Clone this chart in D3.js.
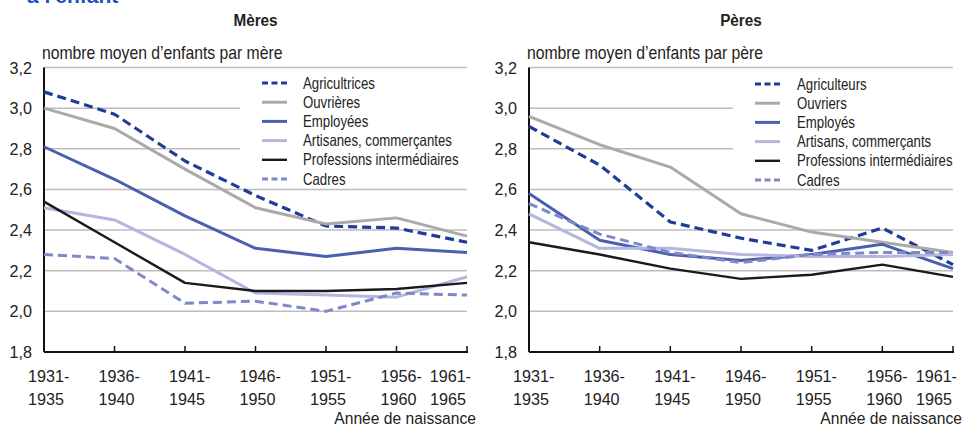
<!DOCTYPE html>
<html>
<head>
<meta charset="utf-8">
<script src="https://cdn.jsdelivr.net/npm/d3@7"></script>
<style>
  body { margin: 0; background: #fff; }
  svg text { font-family: "Liberation Sans", Arial, sans-serif; fill: #222; }
</style>
</head>
<body>
<div class="chart"></div>
<script>
// periods of birth
var periods = ["1931-1935", "1936-1940", "1941-1945", "1946-1950", "1951-1955", "1956-1960", "1961-1965"];
var yTicks = [1.8, 2.0, 2.2, 2.4, 2.6, 2.8, 3.0, 3.2];

// Mères
var meresNames = ["Agricultrices", "Ouvrières", "Employées", "Artisanes, commerçantes", "Professions intermédiaires", "Cadres"];
var agricultrices = [3.08, 2.97, 2.74, 2.57, 2.42, 2.41, 2.34];
var ouvrieres     = [3.00, 2.90, 2.70, 2.51, 2.43, 2.46, 2.37];
var employees     = [2.81, 2.65, 2.47, 2.31, 2.27, 2.31, 2.29];
var artisanes     = [2.51, 2.45, 2.28, 2.09, 2.08, 2.07, 2.17];
var profIntF      = [2.54, 2.34, 2.14, 2.10, 2.10, 2.11, 2.14];
var cadresF       = [2.28, 2.26, 2.04, 2.05, 2.00, 2.09, 2.08];

// Pères
var peresNames = ["Agriculteurs", "Ouvriers", "Employés", "Artisans, commerçants", "Professions intermédiaires", "Cadres"];
var agriculteurs = [2.91, 2.72, 2.44, 2.36, 2.30, 2.41, 2.23];
var ouvriers     = [2.96, 2.82, 2.71, 2.48, 2.39, 2.34, 2.29];
var employes     = [2.58, 2.35, 2.28, 2.25, 2.28, 2.33, 2.21];
var artisans     = [2.48, 2.31, 2.31, 2.28, 2.27, 2.27, 2.28];
var profIntH     = [2.34, 2.28, 2.21, 2.16, 2.18, 2.23, 2.17];
var cadresH      = [2.53, 2.38, 2.29, 2.24, 2.28, 2.29, 2.29];

var colors = ["#1f3c98", "#aaaaaa", "#4b5fb0", "#b3b7de", "#1a1a1a", "#7f88c8"];
var dashes = ["9,5", null, null, null, null, "9,5"];
var widths = [3.2, 3, 3, 3, 2.4, 3];

var svg = d3.select(".chart").append("svg")
  .attr("width", 968)
  .attr("height", 428);

// condensed-looking text: normal font squeezed horizontally
function ntext(parent, x, y, str, size, sx, anchor) {
  return parent.append("text")
    .attr("transform", `translate(${x},${y}) scale(${sx},1)`)
    .attr("text-anchor", anchor || "start")
    .style("font-size", size + "px")
    .text(str);
}

// cut-off title at top
svg.append("text")
  .attr("x", 27)
  .attr("y", 3)
  .style("font-weight", "bold")
  .style("font-size", "21px")
  .style("fill", "#1f4fbf")
  .text("à l'enfant");

function drawPanel(opt) {
  var x = d3.scalePoint().domain(periods).range([opt.left, opt.right]);
  var y = d3.scaleLinear().domain([1.8, 3.2]).range([352, 67.5]);
  var g = svg.append("g");

  // gridlines
  g.selectAll(".grid").data(yTicks.filter(d => d > 1.8))
    .enter().append("line")
    .attr("x1", opt.left).attr("x2", opt.right)
    .attr("y1", d => y(d)).attr("y2", d => y(d))
    .attr("stroke", "#bdbdbd").attr("stroke-width", 1.5);

  // legend box hides gridlines
  g.append("rect")
    .attr("x", opt.legX - 22).attr("y", y(3.2) + 5)
    .attr("width", opt.right - opt.legX + 22).attr("height", y(2.6) - y(3.2) - 9)
    .attr("fill", "#fff");

  // y tick labels
  yTicks.forEach(function(t) {
    ntext(g, opt.left - 12, y(t) + 6, d3.format(".1f")(t).replace(".", ","), 17, 0.95, "end");
  });

  // axes
  g.append("line")
    .attr("x1", opt.left).attr("x2", opt.left)
    .attr("y1", y(3.2)).attr("y2", y(1.8))
    .attr("stroke", "#111").attr("stroke-width", 2);
  g.append("line")
    .attr("x1", opt.left).attr("x2", opt.right + 1)
    .attr("y1", y(1.8)).attr("y2", y(1.8))
    .attr("stroke", "#111").attr("stroke-width", 2);
  g.selectAll(".xtick").data(periods.slice(1))
    .enter().append("line")
    .attr("x1", d => x(d)).attr("x2", d => x(d))
    .attr("y1", y(1.8)).attr("y2", y(1.8) - 6)
    .attr("stroke", "#111").attr("stroke-width", 1.5);

  // x labels (two lines)
  periods.forEach(function(p, i) {
    var last = i === periods.length - 1;
    var parts = p.split("-");
    ntext(g, last ? x(p) + 4 : x(p) - 16, 382, parts[0] + "-", 17, 0.95, last ? "end" : "start");
    ntext(g, last ? x(p) - 1 : x(p) - 16, 405, parts[1], 17, 0.95, last ? "end" : "start");
  });

  ntext(g, opt.right + 9, 424, "Année de naissance", 17, 0.92, "end");

  // titles
  ntext(g, (opt.left + opt.right) / 2, 26, opt.title, 17, 0.9, "middle")
    .style("font-weight", "bold");
  ntext(g, opt.left - 2, 59, opt.ylabel, 17.5, 0.9, "start");

  // lines
  var line = d3.line().x((d, i) => x(periods[i])).y(d => y(d));
  opt.series.forEach(function(s, k) {
    g.append("path")
      .datum(s)
      .attr("d", line)
      .attr("fill", "none")
      .attr("stroke", colors[k])
      .attr("stroke-width", widths[k])
      .attr("stroke-dasharray", dashes[k])
      .attr("stroke-linejoin", "round");
  });

  // legend
  opt.names.forEach(function(name, i) {
    var ly = opt.legY + i * 19.2;
    g.append("line")
      .attr("x1", opt.legX).attr("x2", opt.legX + 25)
      .attr("y1", ly).attr("y2", ly)
      .attr("stroke", colors[i])
      .attr("stroke-width", widths[i])
      .attr("stroke-dasharray", dashes[i] ? "6,3.5" : null);
    ntext(g, opt.legX + opt.textDx, ly + 5.5, name, 16.5, 0.8, "start");
  });
}

drawPanel({
  left: 44, right: 467, title: "Mères", ylabel: "nombre moyen d’enfants par mère",
  series: [agricultrices, ouvrieres, employees, artisanes, profIntF, cadresF],
  names: meresNames, legX: 262, legY: 83, textDx: 41
});
drawPanel({
  left: 529, right: 953, title: "Pères", ylabel: "nombre moyen d’enfants par père",
  series: [agriculteurs, ouvriers, employes, artisans, profIntH, cadresH],
  names: peresNames, legX: 755, legY: 84, textDx: 42
});
</script>
</body>
</html>
